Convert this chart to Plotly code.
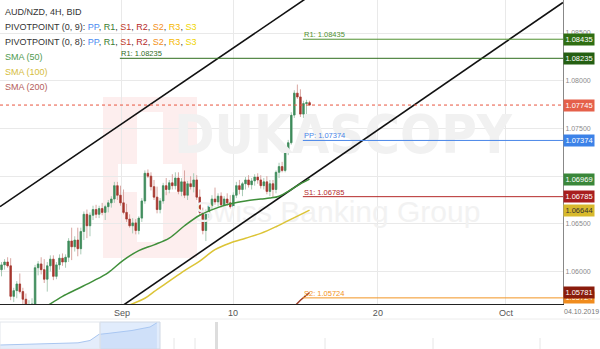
import plotly.graph_objects as go

# ---------------- AUD/NZD 4H bars ----------------
opens = [1.0602, 1.0607, 1.0610, 1.0606, 1.0574, 1.0580, 1.0587, 1.0579, 1.0571, 1.0561,
         1.0564, 1.0566, 1.0604, 1.0608, 1.0602, 1.0592, 1.0606, 1.0613, 1.0595, 1.0607,
         1.0614, 1.0610, 1.0615, 1.0632, 1.0626, 1.0633, 1.0624, 1.0642, 1.0660, 1.0648,
         1.0659, 1.0665, 1.0660, 1.0666, 1.0662, 1.0668, 1.0672, 1.0676, 1.0690, 1.0680,
         1.0672, 1.0662, 1.0655, 1.0648, 1.0651, 1.0643, 1.0656, 1.0674, 1.0703, 1.0700,
         1.0689, 1.0678, 1.0665, 1.0674, 1.0690, 1.0686, 1.0693, 1.0690, 1.0698, 1.0684,
         1.0694, 1.0680, 1.0692, 1.0689, 1.0696, 1.0678, 1.0662, 1.0643, 1.0660, 1.0669,
         1.0676, 1.0673, 1.0679, 1.0670, 1.0676, 1.0672, 1.0668, 1.0680, 1.0690, 1.0686,
         1.0692, 1.0696, 1.0691, 1.0695, 1.0699, 1.0696, 1.0690, 1.0694, 1.0684, 1.0692,
         1.0686, 1.0704, 1.0710, 1.0706, 1.0726, 1.0735, 1.0764, 1.0787, 1.0783, 1.0765,
         1.0776, 1.0777]
highs = [1.0610, 1.0613, 1.0615, 1.0614, 1.0583, 1.0590, 1.0598, 1.0583, 1.0577, 1.0570,
         1.0572, 1.0607, 1.0611, 1.0615, 1.0613, 1.0610, 1.0617, 1.0617, 1.0610, 1.0618,
         1.0619, 1.0618, 1.0635, 1.0646, 1.0637, 1.0646, 1.0646, 1.0663, 1.0665, 1.0662,
         1.0669, 1.0670, 1.0669, 1.0672, 1.0670, 1.0675, 1.0679, 1.0694, 1.0694, 1.0690,
         1.0686, 1.0671, 1.0660, 1.0656, 1.0655, 1.0658, 1.0677, 1.0706, 1.0707, 1.0704,
         1.0696, 1.0689, 1.0677, 1.0693, 1.0698, 1.0696, 1.0702, 1.0704, 1.0704, 1.0698,
         1.0706, 1.0695, 1.0700, 1.0703, 1.0701, 1.0686, 1.0667, 1.0665, 1.0672, 1.0680,
         1.0688, 1.0682, 1.0683, 1.0679, 1.0682, 1.0680, 1.0683, 1.0694, 1.0696, 1.0694,
         1.0699, 1.0701, 1.0698, 1.0702, 1.0703, 1.0701, 1.0698, 1.0700, 1.0696, 1.0696,
         1.0706, 1.0714, 1.0715, 1.0729, 1.0738, 1.0767, 1.0790, 1.0796, 1.0791, 1.0779,
         1.0780, 1.0779]
lows = [1.0595, 1.0602, 1.0604, 1.0570, 1.0568, 1.0572, 1.0577, 1.0560, 1.0553, 1.0551,
        1.0556, 1.0562, 1.0596, 1.0597, 1.0588, 1.0579, 1.0600, 1.0591, 1.0592, 1.0602,
        1.0606, 1.0604, 1.0610, 1.0612, 1.0621, 1.0616, 1.0618, 1.0633, 1.0635, 1.0637,
        1.0654, 1.0656, 1.0656, 1.0659, 1.0654, 1.0662, 1.0667, 1.0672, 1.0675, 1.0669,
        1.0660, 1.0652, 1.0646, 1.0640, 1.0639, 1.0639, 1.0652, 1.0671, 1.0698, 1.0685,
        1.0675, 1.0661, 1.0661, 1.0671, 1.0680, 1.0682, 1.0686, 1.0686, 1.0681, 1.0679,
        1.0677, 1.0675, 1.0686, 1.0683, 1.0675, 1.0659, 1.0639, 1.0632, 1.0656, 1.0665,
        1.0670, 1.0668, 1.0667, 1.0666, 1.0669, 1.0666, 1.0665, 1.0677, 1.0681, 1.0679,
        1.0686, 1.0688, 1.0686, 1.0690, 1.0692, 1.0687, 1.0686, 1.0681, 1.0679, 1.0678,
        1.0682, 1.0698, 1.0704, 1.0704, 1.0722, 1.0733, 1.0761, 1.0781, 1.0762, 1.0761,
        1.0759, 1.0774]
closes = [1.0607, 1.0610, 1.0606, 1.0574, 1.0580, 1.0587, 1.0579, 1.0571, 1.0561, 1.0564,
          1.0566, 1.0604, 1.0608, 1.0602, 1.0592, 1.0606, 1.0613, 1.0595, 1.0607, 1.0614,
          1.0610, 1.0615, 1.0632, 1.0626, 1.0633, 1.0624, 1.0642, 1.0660, 1.0648, 1.0659,
          1.0665, 1.0660, 1.0666, 1.0662, 1.0668, 1.0672, 1.0676, 1.0690, 1.0680, 1.0672,
          1.0662, 1.0655, 1.0648, 1.0651, 1.0643, 1.0656, 1.0674, 1.0703, 1.0700, 1.0689,
          1.0678, 1.0665, 1.0674, 1.0690, 1.0686, 1.0693, 1.0690, 1.0698, 1.0684, 1.0694,
          1.0680, 1.0692, 1.0689, 1.0696, 1.0678, 1.0662, 1.0643, 1.0660, 1.0669, 1.0676,
          1.0673, 1.0679, 1.0670, 1.0676, 1.0672, 1.0668, 1.0680, 1.0690, 1.0686, 1.0692,
          1.0696, 1.0691, 1.0695, 1.0699, 1.0696, 1.0690, 1.0694, 1.0684, 1.0692, 1.0686,
          1.0704, 1.0710, 1.0706, 1.0726, 1.0735, 1.0764, 1.0787, 1.0783, 1.0765, 1.0776,
          1.0777, 1.07745]
bar_index = list(range(len(closes)))

# time axis (bar numbers) and price axis ticks
time_tick_pos = [39.5, 75.9, 123.4, 165.4]
time_tick_text = ["Sep", "10", "20", "Oct"]
price_ticks = [1.060, 1.065, 1.070, 1.075, 1.080, 1.085]
price_tick_text = ["1.06000", "1.06500", "1.07000", "1.07500", "1.08000", "1.08500"]

# moving averages (bar, value)
sma50_bar = [14, 20, 25, 30, 35, 40, 45, 50, 55, 60, 65, 70, 75, 80, 85, 88, 91, 95, 98, 101]
sma50_val = [1.0562, 1.0574, 1.0582, 1.0590, 1.0599, 1.0612, 1.0622, 1.0628, 1.0635, 1.0648,
             1.0659, 1.0666, 1.0671, 1.0674, 1.0676, 1.0677, 1.0679, 1.0686, 1.0692, 1.06969]
sma100_bar = [42, 47, 50, 55, 60, 65, 70, 75, 80, 85, 90, 95, 101]
sma100_val = [1.0565, 1.0572, 1.0579, 1.0590, 1.0601, 1.0611, 1.0623, 1.0630, 1.0635, 1.0640,
              1.0647, 1.0655, 1.06644]
sma200_bar = [95, 98, 101]
sma200_val = [1.0560, 1.0570, 1.05781]

# trend channel
channel_upper_bar = [-0.5, 100.2]
channel_upper_val = [1.0668, 1.0887]
channel_lower_bar = [38.2, 184.1]
channel_lower_val = [1.0561, 1.0882]

# pivot levels: PIVOTPOINT (0, 9) and (0, 8)
pivot_names = ["R1", "PP", "S1", "S2", "R1"]
pivot_values = [1.08435, 1.07374, 1.06785, 1.05724, 1.08235]
pivot_start_bar = [98.8, 98.8, 98.8, 98.8, 38.8]
pivot_line_colors = ["#4f9130", "#4a86e8", "#b52a2a", "#f29422", "#2f6d1d"]
pivot_tag_colors = ["#2f6e12", "#3c82e8", "#a81e1e", "#f08c1e", "#245f12"]

# overview strip (daily)
nav_day = [0, 5, 10, 14, 18, 22, 26, 30, 33, 36, 40, 44, 48, 50, 52.3]
nav_val = [1.0502, 1.0506, 1.0510, 1.0512, 1.0520, 1.0526, 1.0530, 1.0560, 1.0640, 1.0652,
           1.0668, 1.0690, 1.0720, 1.0735, 1.0790]

W, H = 600, 349
PLOT_R, PLOT_B = 563, 304
X_MIN, X_MAX = -0.5, 184.1
Y_MIN, Y_MAX = 1.0566, 1.08846
FONT = "Liberation Sans, Arial"


def px(xp):
    return xp / W


def py(yp):
    return (H - yp) / H


UP, DN = "#3e8b5b", "#a5362e"
UP_WICK, DN_WICK = "#a9cbb6", "#d9a6a2"

fig = go.Figure()

# watermark text sits underneath everything else in the plot area
fig.add_trace(go.Scatter(
    x=[112], y=[1.0738], mode="text", text=["DUKASCOPY"], hoverinfo="skip", showlegend=False,
    textfont=dict(size=54, color="#f1f1f1", weight="bold",
                  family="DejaVu Sans Condensed, Liberation Sans Narrow, Arial Narrow, Liberation Sans")))
fig.add_trace(go.Scatter(
    x=[110], y=[1.0660], mode="text", text=["Swiss Banking Group"], hoverinfo="skip",
    showlegend=False, textfont=dict(size=30, color="#f2f2f2", family=FONT)))

# wicks (light) then bodies (solid)
fig.add_trace(go.Candlestick(
    x=bar_index, open=opens, high=highs, low=lows, close=closes,
    increasing=dict(line=dict(color=UP_WICK, width=1), fillcolor=UP_WICK),
    decreasing=dict(line=dict(color=DN_WICK, width=1), fillcolor=DN_WICK),
    whiskerwidth=0, hoverinfo="skip", showlegend=False))
body_top = [max(o, c) for o, c in zip(opens, closes)]
body_bot = [min(o, c) for o, c in zip(opens, closes)]
fig.add_trace(go.Candlestick(
    x=bar_index, open=opens, high=body_top, low=body_bot, close=closes,
    increasing=dict(line=dict(color=UP, width=0.6), fillcolor=UP),
    decreasing=dict(line=dict(color=DN, width=0.6), fillcolor=DN),
    whiskerwidth=0, hoverinfo="skip", showlegend=False))

# channel lines
fig.add_trace(go.Scatter(x=channel_upper_bar, y=channel_upper_val, mode="lines",
                         line=dict(color="#111111", width=1.6), showlegend=False))
fig.add_trace(go.Scatter(x=channel_lower_bar, y=channel_lower_val, mode="lines",
                         line=dict(color="#111111", width=1.6), showlegend=False))

# moving averages
fig.add_trace(go.Scatter(x=sma50_bar, y=sma50_val, mode="lines",
                         line=dict(color="#3f8f3a", width=1.5, shape="spline"), showlegend=False))
fig.add_trace(go.Scatter(x=sma100_bar, y=sma100_val, mode="lines",
                         line=dict(color="#dcc436", width=1.5, shape="spline"), showlegend=False))
fig.add_trace(go.Scatter(x=sma200_bar, y=sma200_val, mode="lines",
                         line=dict(color="#9a3a24", width=1.5), showlegend=False))

# pivot lines with captions
for name, val, start, lc in zip(pivot_names, pivot_values, pivot_start_bar, pivot_line_colors):
    fig.add_trace(go.Scatter(x=[start, X_MAX + 5], y=[val, val], mode="lines",
                             line=dict(color=lc, width=1), showlegend=False))
    fig.add_annotation(x=start, y=val, xref="x", yref="y", xanchor="left", yanchor="bottom",
                       text=f"{name}: {val:.5f}", showarrow=False,
                       font=dict(size=7.5, color=lc, family=FONT), xshift=-1, yshift=-2)

# last price line
last = closes[-1]
fig.add_shape(type="line", xref="paper", yref="y", x0=0, x1=px(PLOT_R), y0=last, y1=last,
              line=dict(color="#e8553f", width=1, dash="dot"))

# price tags on the right edge
tags = [(pivot_values[3], pivot_tag_colors[3], "white"),
        (pivot_values[0], pivot_tag_colors[0], "white"),
        (pivot_values[4], pivot_tag_colors[4], "white"),
        (last, "#e5604a", "white"),
        (pivot_values[1], pivot_tag_colors[1], "white"),
        (sma50_val[-1], "#3a873a", "white"),
        (pivot_values[2], pivot_tag_colors[2], "white"),
        (sma100_val[-1], "#d8b92c", "#333333"),
        (sma200_val[-1], "#8a1c0c", "white")]
for val, bg, fg in tags:
    fig.add_annotation(x=px(PLOT_R) + 0.0008, y=val, xref="paper", yref="y",
                       xanchor="left", yanchor="middle", text=f"{val:.5f}", showarrow=False,
                       bgcolor=bg, borderpad=1, width=28, align="center",
                       font=dict(size=7.5, color=fg, family=FONT))


def span(t, c):
    return f"<span style='color:{c}'>{t}</span>"


piv_list = ", ".join(span(n, c) for n, c in [("PP", "#4a8cf0"), ("R1", "#3a7d30"), ("S1", "#c0392b"),
                                             ("R2", "#b52a2a"), ("S2", "#f39020"), ("R3", "#f5b800"),
                                             ("S3", "#efd400")])
header = [("AUD/NZD, 4H, BID", "#333333", 12),
          ("PIVOTPOINT (0, 9): " + piv_list, "#333333", 27),
          ("PIVOTPOINT (0, 8): " + piv_list, "#333333", 42),
          ("SMA (50)", "#4f9a4f", 57),
          ("SMA (100)", "#d6bd3c", 72),
          ("SMA (200)", "#b5605a", 87)]
for text, col, yp in header:
    fig.add_annotation(x=px(3), y=py(yp), xref="paper", yref="paper", xanchor="left",
                       yanchor="middle", text=text, showarrow=False,
                       font=dict(size=9, color=col, family=FONT))

# date stamp
fig.add_annotation(x=px(581), y=py(311), xref="paper", yref="paper", text="04.10.2019",
                   xanchor="center", yanchor="middle",
                   showarrow=False, font=dict(size=7, color="#777777", family=FONT))

# logo block of the watermark
fig.add_shape(type="rect", xref="paper", yref="paper", x0=px(103), x1=px(197), y0=py(258), y1=py(97),
              fillcolor="#fdeeee", line_width=0, layer="below")
fig.add_shape(type="rect", xref="paper", yref="paper", x0=px(137), x1=px(163), y0=py(242), y1=py(112),
              fillcolor="white", line_width=0, layer="below")
fig.add_shape(type="rect", xref="paper", yref="paper", x0=px(118), x1=px(182), y0=py(192), y1=py(164),
              fillcolor="white", line_width=0, layer="below")

# overview strip
fig.add_trace(go.Scatter(x=nav_day, y=nav_val, mode="lines", fill="tozeroy",
                         line=dict(color="#a9c6f0", width=1), fillcolor="#e4edfb",
                         xaxis="x2", yaxis="y2", showlegend=False))
fig.add_shape(type="rect", xref="paper", yref="paper", x0=px(100), x1=px(160), y0=0, y1=py(322),
              fillcolor="rgba(170,200,245,0.35)", line=dict(color="#d0d8e4", width=1))
fig.add_shape(type="rect", xref="paper", yref="paper", x0=px(0), x1=px(100), y0=0, y1=py(322),
              fillcolor="rgba(0,0,0,0)", line=dict(color="#e2e6ec", width=1))
fig.add_shape(type="rect", xref="paper", yref="paper", x0=px(215), x1=px(218), y0=0, y1=py(322),
              fillcolor="#dddddd", line_width=0)
for xv in [174, 195, 325, 433, 540]:
    fig.add_shape(type="line", xref="paper", yref="paper", x0=px(xv), x1=px(xv), y0=0, y1=py(338),
                  line=dict(color="#e6e6e6", width=1))
fig.add_shape(type="line", xref="paper", yref="paper", x0=0, x1=1, y0=py(319), y1=py(319),
              line=dict(color="#ececec", width=1))

fig.update_layout(
    width=W, height=H, margin=dict(l=0, r=0, t=0, b=0),
    paper_bgcolor="white", plot_bgcolor="white",
    xaxis=dict(domain=[0, px(PLOT_R)], range=[X_MIN, X_MAX], rangeslider=dict(visible=False),
               tickmode="array", tickvals=time_tick_pos, ticktext=time_tick_text,
               showgrid=True, gridcolor="#e9e9e9", gridwidth=1, zeroline=False,
               showline=True, linecolor="#222222", linewidth=1, ticks="",
               tickfont=dict(size=9, color="#555555", family=FONT)),
    yaxis=dict(domain=[py(PLOT_B), 1], range=[Y_MIN, Y_MAX], side="right",
               tickmode="array", tickvals=price_ticks, ticktext=price_tick_text,
               showgrid=True, gridcolor="#e9e9e9", gridwidth=1, zeroline=False,
               showline=True, linecolor="#888888", linewidth=1, ticks="",
               tickfont=dict(size=7, color="#8a8a8a", family=FONT)),
    xaxis2=dict(domain=[0, 1], range=[0, 200], visible=False, anchor="y2"),
    yaxis2=dict(domain=[0, py(322)], range=[1.045, 1.080], visible=False, anchor="x2"),
    showlegend=False,
)

fig.write_html("out.html")
